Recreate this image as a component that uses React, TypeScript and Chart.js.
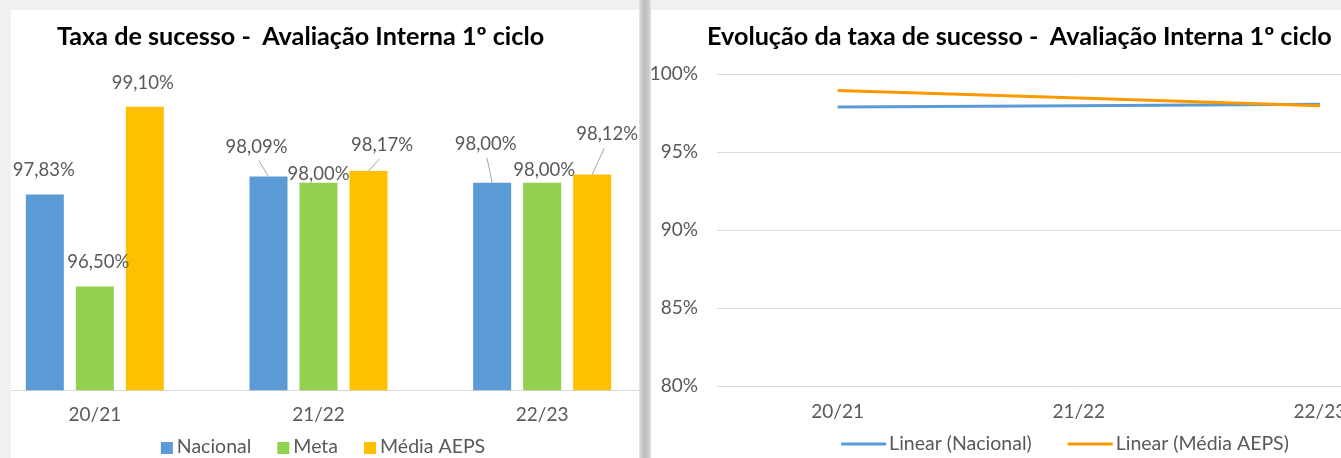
import React, { useEffect, useRef } from 'react';
import { Chart, registerables } from 'chart.js';

Chart.register(...registerables);

// ---- data ----
const categories = ['20/21', '21/22', '22/23'];
const nacional = [97.83, 98.09, 98.0];
const meta = [96.5, 98.0, 98.0];
const mediaAEPS = [99.1, 98.17, 98.12];
// linear trend lines
const trendNacional = [97.89, 97.97, 98.06];
const trendMedia = [98.95, 98.46, 97.97];
const yTicksRight = [80, 85, 90, 95, 100];

const leftTitle = 'Taxa de sucesso -  Avaliação Interna 1º ciclo';
const rightTitle = 'Evolução da taxa de sucesso -  Avaliação Interna 1º ciclo';

// ---- style ----
const FONT = 'Lato, "Liberation Sans", sans-serif';
const TEXT = '#595959';
const GRID = '#d9d9d9';
const C_NAC = '#5B9BD5';
const C_META = '#92D050';
const C_AEPS = '#FFC000';
const C_TREND_AEPS = '#FF9900';

// data-label placement: [dx, dy, leaderLine] relative to the bar top centre
const labelPlacement = [
  [[-1, -25, 0], [-12, -30, 1], [-6.5, -39, 1]],
  [[3.5, -24, 0], [0, -9, 0], [2, -13, 0]],
  [[-2, -24, 0], [13.5, -26, 1], [15, -40, 1]],
];

const fmt = (v: number) => v.toFixed(2).replace('.', ',') + '%';

const barLabelPlugin = {
  id: 'barLabels',
  afterDatasetsDraw(chart: any) {
    const ctx = chart.ctx;
    ctx.save();
    ctx.font = `18.5px ${FONT}`;
    ctx.textAlign = 'center';
    ctx.textBaseline = 'middle';
    chart.data.datasets.forEach((ds: any, di: number) => {
      const m = chart.getDatasetMeta(di);
      m.data.forEach((el: any, i: number) => {
        const [dx, dy, leader] = labelPlacement[di][i];
        const lx = el.x + dx;
        const ly = el.y + dy;
        if (leader) {
          ctx.strokeStyle = '#a6a6a6';
          ctx.lineWidth = 1;
          ctx.beginPath();
          ctx.moveTo(lx + (el.x - lx) * 0.2, ly + 14);
          ctx.lineTo(el.x, el.y);
          ctx.stroke();
        }
        ctx.fillStyle = TEXT;
        ctx.fillText(fmt(ds.data[i]), lx, ly);
      });
    });
    ctx.restore();
  },
};

// simple legend drawn under the axis labels
const customLegend = {
  id: 'customLegend',
  afterDraw(chart: any, _args: any, opts: any) {
    const ctx = chart.ctx;
    ctx.save();
    ctx.font = `${opts.fontSize}px ${FONT}`;
    ctx.textBaseline = 'middle';
    ctx.textAlign = 'left';
    const items = chart.data.datasets.map((ds: any) => ({
      text: ds.label as string,
      color: (opts.marker === 'line' ? ds.borderColor : ds.backgroundColor) as string,
    }));
    const widths = items.map((it: any) => opts.markerWidth + opts.markerGap + ctx.measureText(it.text).width);
    const total = widths.reduce((a: number, b: number) => a + b, 0) + opts.itemGap * (items.length - 1);
    let x = opts.centerX - total / 2;
    const y = opts.y;
    items.forEach((it: any, i: number) => {
      if (opts.marker === 'line') {
        ctx.strokeStyle = it.color;
        ctx.lineWidth = 3;
        ctx.beginPath();
        ctx.moveTo(x, y);
        ctx.lineTo(x + opts.markerWidth, y);
        ctx.stroke();
      } else {
        ctx.fillStyle = it.color;
        ctx.fillRect(x, y - opts.markerWidth / 2 + 1, opts.markerWidth, opts.markerWidth);
      }
      ctx.fillStyle = TEXT;
      ctx.fillText(it.text, x + opts.markerWidth + opts.markerGap, y);
      x += widths[i] + opts.itemGap;
    });
    ctx.restore();
  },
};

function BarChart() {
  const ref = useRef<HTMLCanvasElement | null>(null);
  useEffect(() => {
    if (!ref.current) return;
    const chart = new Chart(ref.current, {
      type: 'bar',
      data: {
        labels: categories,
        datasets: [
          { label: 'Nacional', data: nacional, backgroundColor: C_NAC, borderWidth: 0 },
          { label: 'Meta', data: meta, backgroundColor: C_META, borderWidth: 0 },
          { label: 'Média AEPS', data: mediaAEPS, backgroundColor: C_AEPS, borderWidth: 0 },
        ],
      },
      options: {
        animation: false,
        responsive: false,
        maintainAspectRatio: false,
        layout: { padding: { top: 34.5, left: 0, right: 0, bottom: 27 } },
        datasets: { bar: { categoryPercentage: 0.6706, barPercentage: 0.76 } },
        scales: {
          x: {
            grid: { display: false, drawTicks: false },
            border: { display: true, color: GRID, width: 1 },
            ticks: { color: TEXT, font: { family: FONT, size: 19 }, padding: 13 },
          },
          y: { display: false, min: 95, max: 100 },
        },
        plugins: {
          legend: { display: false },
          tooltip: { enabled: false },
          title: { display: false },
          customLegend: { marker: 'box', fontSize: 19.5, markerWidth: 12, markerGap: 4, itemGap: 26, centerX: 340, y: 437 },
        },
      } as any,
      plugins: [barLabelPlugin, customLegend],
    });
    return () => chart.destroy();
  }, []);
  return (
    <canvas
      ref={ref}
      width={671}
      height={456}
      style={{ position: 'absolute', left: -28, top: 0, width: 671, height: 456 }}
    />
  );
}

function LineChart() {
  const ref = useRef<HTMLCanvasElement | null>(null);
  useEffect(() => {
    if (!ref.current) return;
    const chart = new Chart(ref.current, {
      type: 'line',
      data: {
        labels: categories,
        datasets: [
          { label: 'Linear (Nacional)', data: trendNacional, borderColor: C_NAC, backgroundColor: C_NAC, borderWidth: 3, pointRadius: 0, order: 1 },
          { label: 'Linear (Média AEPS)', data: trendMedia, borderColor: C_TREND_AEPS, backgroundColor: C_TREND_AEPS, borderWidth: 3, pointRadius: 0, order: 0 },
        ],
      },
      options: {
        animation: false,
        responsive: false,
        maintainAspectRatio: false,
        layout: { padding: { top: 64, left: 0, right: 38.5, bottom: 26 } },
        scales: {
          x: {
            offset: true,
            grid: { display: false, drawTicks: false },
            border: { display: false },
            ticks: { color: TEXT, font: { family: FONT, size: 19 }, padding: 14 },
          },
          y: {
            min: 80,
            max: 100,
            grid: { color: GRID, lineWidth: 1, drawTicks: false },
            border: { display: false },
            afterBuildTicks: (s: any) => { s.ticks = yTicksRight.map((v) => ({ value: v })); },
            ticks: { color: TEXT, font: { family: FONT, size: 19 }, padding: 19, callback: (v: any) => v + '%' },
            afterFit: (s: any) => { s.width = 66; },
          },
        },
        plugins: {
          legend: { display: false },
          tooltip: { enabled: false },
          title: { display: false },
          customLegend: { marker: 'line', fontSize: 19.5, markerWidth: 45, markerGap: 3, itemGap: 36, centerX: 414, y: 434 },
        },
      } as any,
      plugins: [customLegend],
    });
    return () => chart.destroy();
  }, []);
  return (
    <canvas
      ref={ref}
      width={828}
      height={453}
      style={{ position: 'absolute', left: 0, top: 0, width: 828, height: 453 }}
    />
  );
}

const titleStyle: React.CSSProperties = {
  position: 'absolute',
  fontFamily: FONT,
  fontWeight: 700,
  fontSize: 25.2,
  lineHeight: 'normal',
  color: '#000',
  whiteSpace: 'pre',
};

export default function App() {
  return (
    <div
      style={{
        position: 'fixed',
        left: 0,
        top: 0,
        width: 1341,
        height: 458,
        overflow: 'hidden',
        background: '#f0f0f0',
      }}
    >
      <div
        style={{ position: 'absolute', left: 11, top: 10, width: 628, height: 448, background: '#fff', overflow: 'hidden' }}
      >
        <BarChart />
        <div style={{ ...titleStyle, left: 46, top: 10 }}>{leftTitle}</div>
      </div>
      <div
        style={{
          position: 'absolute',
          left: 639,
          top: 0,
          width: 12,
          height: 458,
          background: 'linear-gradient(to right, #e8e8e8 0px, #cfcfcf 2px, #bdbdbd 5px, #c6c6c6 9px, #e4e4e4 12px)',
        }}
      />
      <div
        style={{ position: 'absolute', left: 651, top: 10, width: 690, height: 448, background: '#fff', overflow: 'hidden' }}
      >
        <LineChart />
        <div style={{ ...titleStyle, left: 56, top: 10 }}>{rightTitle}</div>
      </div>
    </div>
  );
}
